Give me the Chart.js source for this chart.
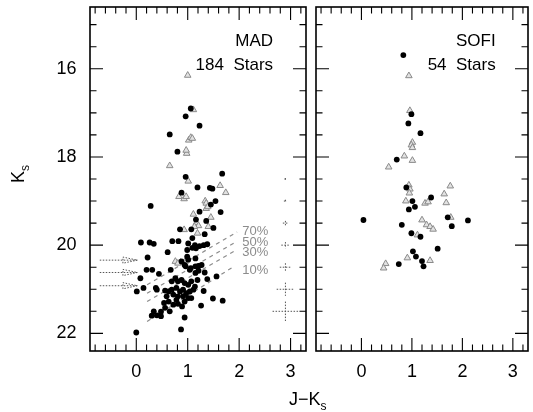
<!DOCTYPE html>
<html>
<head>
<meta charset="utf-8">
<script src="https://cdn.jsdelivr.net/npm/chart.js@4.4.1/dist/chart.umd.min.js"></script>
<style>
  body { margin: 0; background: #fff; }
  #wrap { position: relative; width: 533px; height: 412px; overflow: hidden;
          font-family: 'Liberation Sans', Arial, sans-serif; }
  canvas { position: absolute; top: 0; }
  #cLeft { left: 0; }
  #cRight { left: 311px; }
  .ttl { position: absolute; font-size: 18px; line-height: 18px; color: #000; white-space: nowrap; }
  .ttl sub { font-size: 12px; vertical-align: -5px; line-height: 0; }
  #xTitle { left: 289px; top: 390px; }
  #yTitle { left: 18px; top: 174px; transform: translate(-50%, -50%) rotate(-90deg); }
</style>
</head>
<body>
<div id="wrap">
  <canvas id="cLeft" width="311" height="412"></canvas>
  <canvas id="cRight" width="222" height="412"></canvas>
  <div class="ttl" id="xTitle">J−K<sub>s</sub></div>
  <div class="ttl" id="yTitle">K<sub>s</sub></div>
</div>
<script>
// axis ranges (J-Ks horizontal, Ks vertical, magnitudes reversed)
const xRange = [-0.9, 3.3];
const yRange = [14.6, 22.4];
const xTickLabels = [0, 1, 2, 3];
const yTickLabels = [16, 18, 20, 22];

// MAD field: filled dots and hatched triangles  [J-Ks, Ks]
const madDots = [
  [1.06,16.90],[0.96,17.08],[1.23,17.29],[0.65,17.49],[0.80,17.88],[1.67,18.38],
  [0.96,18.45],[1.19,18.69],[1.43,18.70],[1.48,18.72],[0.88,18.81],[0.28,19.11],
  [1.54,19.00],[1.45,19.08],[1.23,19.24],[1.64,19.25],[1.36,19.45],[1.16,19.42],
  [1.50,19.61],[0.85,19.64],[1.07,19.64],[1.09,19.84],[1.33,19.75],[0.09,19.94],
  [0.26,19.94],[0.34,19.97],[0.70,19.91],[0.82,19.91],[1.01,19.96],[1.14,20.00],
  [1.23,20.02],[1.31,20.00],[1.38,19.98],[1.09,20.06],[1.16,20.07],[0.61,20.16],
  [0.99,20.11],[0.22,20.28],[0.20,20.56],[0.31,20.56],[0.44,20.65],[0.08,20.75],
  [0.14,20.97],[0.01,21.05],[0.67,20.56],[0.99,20.26],[1.21,20.47],[1.38,20.77],
  [1.56,20.71],[1.31,21.04],[1.49,21.21],[1.68,21.26],[1.26,21.37],[0.94,21.64],
  [0.87,21.91],[0.00,21.98],[0.34,21.50],[0.30,21.60],[0.48,21.51],[0.48,21.61],
  [0.40,21.59],[0.65,21.50],[0.56,21.42],[0.54,21.31],[0.63,21.28],[0.72,21.35],
  [0.81,21.33],[0.89,21.39],[0.40,21.01],[0.69,20.82],[0.76,20.75],[0.81,20.82],
  [0.88,20.79],[0.94,20.86],[1.01,20.90],[1.07,20.82],[1.14,20.94],[0.78,20.97],
  [0.85,21.05],[0.91,21.01],[0.97,21.09],[1.04,21.05],[1.11,21.01],[0.72,21.12],
  [0.81,21.16],[0.91,21.16],[1.01,21.20],[0.69,21.01],[0.63,21.05],[0.56,21.03],
  [0.59,21.16],[0.78,21.24],[0.94,21.28],[1.07,21.20],[1.19,20.79],[1.21,20.58],
  [1.15,20.63],[1.04,20.56],[0.94,20.45],[0.88,20.37],[1.01,20.33],[1.15,20.30],
  [0.96,20.48],[1.06,20.52],[1.15,20.48],[1.27,20.45],[0.38,20.97],[1.33,20.62]
];
const madTris = [
  [1.00,16.15],[1.11,16.93],[1.02,17.62],[1.06,17.56],[1.09,17.58],[0.98,17.92],
  [0.97,17.85],[0.65,18.20],[1.01,18.55],[1.63,18.65],[1.74,18.81],[0.83,18.90],
  [0.93,18.95],[0.97,18.90],[1.34,19.00],[1.36,19.05],[1.36,19.17],[1.39,19.13],
  [1.11,19.30],[1.45,19.37],[1.17,19.49],[1.21,19.56],[1.13,19.58],[1.40,19.58],
  [0.93,19.65],[1.19,19.73],[0.76,20.37],[0.86,20.39],[0.95,20.37],[0.81,20.41]
];

// SOFI field
const sofiDots = [
  [0.83,15.69],[0.99,17.03],[0.93,17.24],[1.17,17.46],[0.70,18.06],[0.89,18.69],
  [1.38,18.92],[1.01,19.00],[1.06,19.13],[0.94,19.19],[0.04,19.43],[0.80,19.54],
  [1.71,19.37],[1.79,19.57],[2.11,19.44],[0.99,19.73],[1.17,19.81],[1.51,20.08],
  [1.02,20.14],[1.08,20.26],[1.20,20.36],[1.23,20.48],[0.74,20.43]
];
const sofiTris = [
  [0.94,16.16],[0.96,16.95],[1.01,17.67],[0.99,17.73],[1.01,17.79],[0.85,17.98],
  [1.01,18.08],[0.54,18.23],[0.94,18.64],[0.96,18.73],[0.95,18.82],[1.76,18.66],
  [1.64,18.84],[0.88,19.00],[1.26,19.05],[1.32,19.02],[1.68,19.04],[1.20,19.43],
  [1.29,19.54],[1.36,19.58],[1.42,19.64],[1.77,19.37],[1.11,19.77],[0.91,20.29],
  [1.36,20.35],[0.48,20.42],[0.44,20.52]
];

// completeness limits
const complNames = ['70%', '50%', '30%', '10%'];
const complStart = [[0.21,20.90],[0.21,21.09],[0.21,21.28],[0.21,21.73]];
const complEnd = [[1.96,19.70],[1.96,19.91],[1.93,20.12],[1.90,20.48]];
const complLabelY = [19.68, 19.93, 20.16, 20.58];
const complLabelX = 2.06;

// arrows at the left of the MAD panel
const arrowY = [20.34, 20.62, 20.92];
const arrowFrom = -0.71, arrowTip = 0.02, arrowBack = -0.26, arrowHalf = 0.07;

// photometric error crosses
const errX = 2.9;
const errY = [18.5, 19.0, 19.5, 20.0, 20.5, 21.0, 21.5];
const errDX = [0.02, 0.03, 0.05, 0.08, 0.11, 0.17, 0.25];
const errDY = [0.02, 0.03, 0.05, 0.07, 0.09, 0.15, 0.22];

const FONT = "'Liberation Sans', Arial, sans-serif";
Chart.defaults.font.family = FONT;

const pts = a => a.map(([x, y]) => ({x, y}));

const framePlugin = {
  id: 'frame',
  afterDraw(chart) {
    const {ctx, chartArea: a, scales: {x, y}} = chart;
    ctx.save();
    ctx.strokeStyle = '#000';
    ctx.lineWidth = 1.1;
    ctx.beginPath();
    for (let i = -4; i <= 16; i++) {
      const v = i / 5;
      const px = x.getPixelForValue(v);
      const len = i % 5 === 0 ? 13 : 6.5;
      ctx.moveTo(px, a.bottom); ctx.lineTo(px, a.bottom - len);
      ctx.moveTo(px, a.top); ctx.lineTo(px, a.top + len);
    }
    for (let i = 30; i <= 44; i++) {
      const v = i / 2;
      const py = y.getPixelForValue(v);
      const len = i % 4 === 0 ? 13 : 6.5;
      ctx.moveTo(a.left, py); ctx.lineTo(a.left + len, py);
      ctx.moveTo(a.right, py); ctx.lineTo(a.right - len, py);
    }
    ctx.stroke();
    ctx.lineWidth = 1.6;
    ctx.strokeRect(a.left, a.top, a.right - a.left, a.bottom - a.top);
    ctx.restore();
  }
};

function textPlugin(title, count, extra) {
  return {
    id: 'texts',
    afterDraw(chart) {
      const {ctx, scales: {x, y}} = chart;
      ctx.save();
      ctx.fillStyle = '#000';
      ctx.font = '17px ' + FONT;
      ctx.textAlign = 'right';
      ctx.textBaseline = 'middle';
      ctx.fillText(title, x.getPixelForValue(2.66), y.getPixelForValue(15.38));
      ctx.fillText(count, x.getPixelForValue(2.66), y.getPixelForValue(15.93));
      if (extra) extra(chart);
      ctx.restore();
    }
  };
}

function madExtras(chart) {
  const {ctx, scales: {x, y}} = chart;
  ctx.fillStyle = '#8c8c8c';
  ctx.font = '13px ' + FONT;
  ctx.textAlign = 'left';
  complNames.forEach((t, i) => {
    ctx.fillText(t, x.getPixelForValue(complLabelX), y.getPixelForValue(complLabelY[i]));
  });
  ctx.strokeStyle = '#555';
  ctx.lineWidth = 1;
  ctx.setLineDash([1.5, 1.5]);
  ctx.beginPath();
  errY.forEach((v, i) => {
    const cx = x.getPixelForValue(errX), cy = y.getPixelForValue(v);
    const dx = x.getPixelForValue(errX + errDX[i]) - cx;
    const dy = y.getPixelForValue(v + errDY[i]) - cy;
    ctx.moveTo(cx - dx, cy); ctx.lineTo(cx + dx, cy);
    ctx.moveTo(cx, cy - dy); ctx.lineTo(cx, cy + dy);
  });
  ctx.stroke();
}

function baseDatasets(dots, tris) {
  return [
    { data: pts(dots), pointRadius: 2.9, pointBackgroundColor: '#000', pointBorderWidth: 0 },
    { data: pts(tris), pointStyle: 'triangle', pointRadius: 3.8, pointBorderColor: '#8a8a8a',
      pointBackgroundColor: '#e2e2e2', pointBorderWidth: 1 }
  ];
}

function options(showY, pad) {
  return {
    responsive: false,
    animation: false,
    events: [],
    layout: { padding: pad },
    plugins: { legend: { display: false }, tooltip: { enabled: false } },
    scales: {
      x: {
        type: 'linear', min: xRange[0], max: xRange[1],
        grid: { display: false, drawTicks: false }, border: { display: false },
        ticks: { stepSize: 1, includeBounds: false, padding: 10, color: '#000',
                 font: { size: 18 }, maxRotation: 0,
                 callback: v => xTickLabels.includes(v) ? String(v) : '' },
        afterFit(s) { s.height = 61; s.paddingLeft = 0; s.paddingRight = 0; }
      },
      y: {
        type: 'linear', reverse: true, min: yRange[0], max: yRange[1], display: showY,
        grid: { display: false, drawTicks: false }, border: { display: false },
        ticks: { stepSize: 2, includeBounds: false, padding: 13.5, color: '#000',
                 font: { size: 18 },
                 callback: v => yTickLabels.includes(v) ? String(v) : '' },
        afterFit(s) {
          s.width = showY ? 90 : 0;
          s.paddingTop = 0; s.paddingBottom = 0;
        }
      }
    }
  };
}

const madSets = baseDatasets(madDots, madTris);
complStart.forEach((s, i) => {
  madSets.push({ data: pts([s, complEnd[i]]), showLine: true, pointRadius: 0,
    borderColor: '#8c8c8c', borderWidth: 1.2, borderDash: [4, 4] });
});
arrowY.forEach(v => {
  madSets.push({ data: pts([[arrowFrom, v], [arrowTip, v], [arrowBack, v - arrowHalf],
      [arrowBack, v + arrowHalf], [arrowTip, v]]),
    showLine: true, pointRadius: 0, borderColor: '#555', borderWidth: 1, borderDash: [1.5, 1.5] });
});

new Chart(document.getElementById('cLeft'), {
  type: 'scatter',
  data: { datasets: madSets },
  options: options(true, { left: 0, right: 1.2, top: 7, bottom: 0 }),
  plugins: [framePlugin, textPlugin('MAD', '184  Stars', madExtras)]
});

new Chart(document.getElementById('cRight'), {
  type: 'scatter',
  data: { datasets: baseDatasets(sofiDots, sofiTris) },
  options: options(false, { left: 0.8, right: 1.4, top: 7, bottom: 0 }),
  plugins: [framePlugin, textPlugin('SOFI', '54  Stars')]
});
</script>
</body>
</html>
